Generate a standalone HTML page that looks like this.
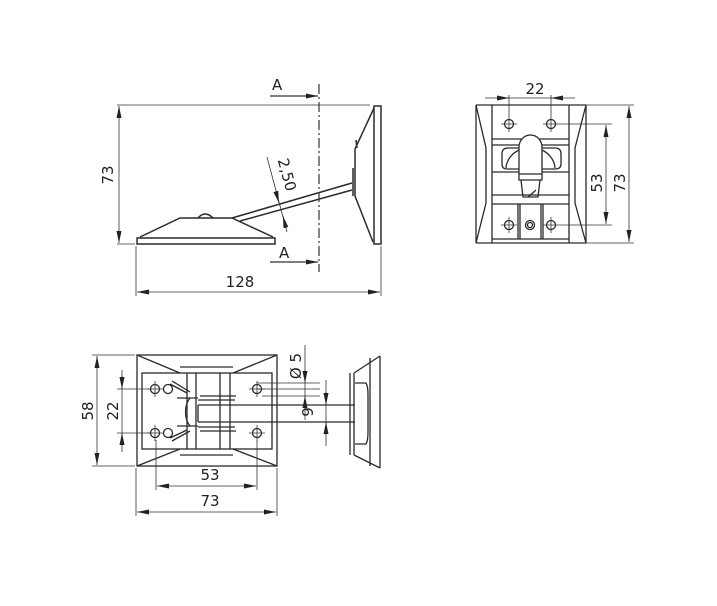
<!DOCTYPE html>
<html><head><meta charset="utf-8"><style>
html,body{margin:0;padding:0;background:#fff;}
svg{display:block;}
text{font-family:"DejaVu Sans","Liberation Sans",sans-serif;font-size:15px;fill:#222;}
</style></head><body>
<svg width="717" height="606" viewBox="0 0 717 606" xmlns="http://www.w3.org/2000/svg">
<defs>
<marker id="a" viewBox="0 0 12 5" refX="12" refY="2.5" markerWidth="12" markerHeight="5" orient="auto-start-reverse" markerUnits="userSpaceOnUse"><path d="M0,0 L12,2.5 L0,5 Z" fill="#222"/></marker>
</defs>
<g stroke="#2a2a2a" fill="none" stroke-width="1.5">
<rect x="137" y="238" width="138" height="6" fill="#fff"/>
<path d="M140,237 L180,218 L232,218 L273,237"/>
<path d="M198,218 Q205,210 213,218"/>
<path d="M232,218 L352,183 M240,221 L352,190"/>
<rect x="374" y="106" width="7" height="138" fill="#fff"/>
<path d="M374,108 L355,149 L355,196 L373,242"/>
<path d="M353,168 L353,196 M356,140 L357,148"/>
</g>
<g stroke="#333" fill="none" stroke-width="0.8">
<line x1="117" y1="105" x2="370" y2="105"/>
<line x1="117" y1="244" x2="135" y2="244"/>
<line x1="119" y1="106" x2="119" y2="243" marker-start="url(#a)" marker-end="url(#a)"/>
<line x1="136" y1="246" x2="136" y2="296"/>
<line x1="381" y1="246" x2="381" y2="296"/>
<line x1="137" y1="292" x2="380" y2="292" marker-start="url(#a)" marker-end="url(#a)"/>
<line x1="319" y1="84" x2="319" y2="272" stroke-dasharray="10,3,2,3" stroke-width="1.2"/>
<line x1="270" y1="96" x2="318" y2="96" marker-end="url(#a)" stroke-width="1.2"/>
<line x1="270" y1="262" x2="318" y2="262" marker-end="url(#a)" stroke-width="1.2"/>
<line x1="267" y1="157" x2="287" y2="232"/>
<line x1="276" y1="192" x2="279" y2="203" marker-end="url(#a)"/>
<line x1="286" y1="228" x2="283" y2="216" marker-end="url(#a)"/>
</g>
<text x="272" y="90">A</text>
<text x="279" y="258">A</text>
<text transform="translate(113,175) rotate(-90)" text-anchor="middle">73</text>
<text x="240" y="287" text-anchor="middle">128</text>
<text transform="translate(282,176) rotate(75)" text-anchor="middle">2,50</text>

<g stroke="#2a2a2a" fill="none" stroke-width="1.3">
<path d="M476,105 L476,243 M476,105 L486,148 L486,203 L476,243 M476,105 L586,105 M476,243 L586,243"/>
<path d="M586,105 L586,243 M586,105 L575,148 L575,203 L586,243"/>
<path d="M492,105 L492,243 M569,105 L569,243"/>
<path d="M492,139 L569,139 M492,145 L569,145 M492,172 L569,172 M492,195 L569,195 M492,204 L569,204 M492,239 L569,239"/>
<path d="M518,204 L518,239 M520,204 L520,239 M541,204 L541,239 M543,204 L543,239"/>
<path d="M506,148 L519,148 M542,148 L555,148 Q561,148 561,154 L561,164 Q561,169 555,169 L542,169 M519,169 L507,169 Q502,169 502,164 L502,154 Q502,148 508,148"/>
<path d="M506,168 A26,22 0 0 1 519,150 M555,168 A26,22 0 0 0 542,150"/>
<path d="M519,180 L519,147 A11.5,12 0 0 1 542,147 L542,180 Z" fill="#fff"/>
<path d="M519,174 L542,174 M521,180 L523,197 L538,197 L540,180 M528,197 L536,190"/>
<circle cx="509" cy="124" r="4.5"/><circle cx="551" cy="124" r="4.5"/>
<circle cx="509" cy="225" r="4.5"/><circle cx="551" cy="225" r="4.5"/>
<circle cx="530" cy="225" r="4.5"/><circle cx="530" cy="225" r="2.5"/>
</g>
<g stroke="#333" fill="none" stroke-width="0.8">
<path d="M501,124 L517,124 M509,116 L509,132 M543,124 L612,124 M551,116 L551,132"/>
<path d="M501,225 L517,225 M509,217 L509,233 M543,225 L612,225 M551,217 L551,233"/>
<line x1="509" y1="95" x2="509" y2="116"/><line x1="551" y1="95" x2="551" y2="116"/>
<line x1="485" y1="98" x2="509" y2="98"/><line x1="551" y1="98" x2="575" y2="98"/>
<line x1="497" y1="98" x2="509" y2="98" marker-end="url(#a)"/>
<line x1="563" y1="98" x2="551" y2="98" marker-end="url(#a)"/>
<line x1="509" y1="98" x2="551" y2="98"/>
<line x1="606" y1="125" x2="606" y2="224" marker-start="url(#a)" marker-end="url(#a)"/>
<line x1="586" y1="105" x2="634" y2="105"/><line x1="586" y1="243" x2="634" y2="243"/>
<line x1="629" y1="106" x2="629" y2="242" marker-start="url(#a)" marker-end="url(#a)"/>
</g>
<text x="535" y="94" text-anchor="middle">22</text>
<text transform="translate(602,183) rotate(-90)" text-anchor="middle">53</text>
<text transform="translate(625,183) rotate(-90)" text-anchor="middle">73</text>

<g stroke="#2a2a2a" fill="none" stroke-width="1.3">
<rect x="137" y="355" width="140" height="111"/>
<rect x="142" y="373" width="130" height="76"/>
<path d="M137,355 L180,373 M277,355 L233,373 M180,367 L233,367 M137,466 L180,449 M277,466 L233,449 M180,455 L233,455"/>
<path d="M187,373 L187,449 M196,373 L196,449 M220,373 L220,449 M230,373 L230,449"/>
<path d="M198,405 L355,405 M198,422 L355,422 M198,405 L198,422"/>
<path d="M190,398 A12,18 0 0 0 190,426 M177,398 L198,398 M177,426 L198,426"/>
<path d="M198,400 L235,400 M198,427 L235,427 M200,396 L236,396 M200,431 L236,431"/>
<path d="M170,384 L187,393 M172,381 L190,392 M170,438 L187,430 M172,441 L190,431"/>
<circle cx="155" cy="389" r="4.5"/><circle cx="168" cy="389" r="4.5"/>
<circle cx="155" cy="433" r="4.5"/><circle cx="168" cy="433" r="4.5"/>
<circle cx="257" cy="389" r="4.5"/><circle cx="257" cy="433" r="4.5"/>
<path d="M380,356 L380,468 M370,358 L370,466 M350,373 L350,455 M380,356 L354,373 M354,455 L380,468 M354,373 L354,455"/>
<path d="M355,383 L366,383 Q368,386 368,395 L368,432 Q368,441 366,444 L355,444"/>
</g>
<g stroke="#333" fill="none" stroke-width="0.8">
<path d="M147,389 L163,389 M155,381 L155,397 M147,433 L163,433 M155,425 L155,441 M249,389 L265,389 M257,381 L257,397 M249,433 L265,433 M257,425 L257,441"/>
<path d="M117,389 L150,389 M117,433 L150,433 M257,389 L320,389 M257,383 L320,383 M262,396 L320,396"/>
<line x1="92" y1="355" x2="135" y2="355"/><line x1="92" y1="466" x2="135" y2="466"/>
<line x1="97" y1="356" x2="97" y2="465" marker-start="url(#a)" marker-end="url(#a)"/>
<line x1="122" y1="370" x2="122" y2="389"/><line x1="122" y1="433" x2="122" y2="452"/>
<line x1="122" y1="376" x2="122" y2="389" marker-end="url(#a)"/>
<line x1="122" y1="446" x2="122" y2="433" marker-end="url(#a)"/>
<line x1="122" y1="389" x2="122" y2="433"/>
<line x1="156" y1="440" x2="156" y2="490"/><line x1="257" y1="440" x2="257" y2="490"/>
<line x1="157" y1="486" x2="256" y2="486" marker-start="url(#a)" marker-end="url(#a)"/>
<line x1="136" y1="468" x2="136" y2="516"/><line x1="277" y1="468" x2="277" y2="516"/>
<line x1="137" y1="512" x2="276" y2="512" marker-start="url(#a)" marker-end="url(#a)"/>
<line x1="305" y1="345" x2="305" y2="420"/>
<line x1="305" y1="370" x2="305" y2="383" marker-end="url(#a)"/>
<line x1="305" y1="409" x2="305" y2="396" marker-end="url(#a)"/>
<line x1="326" y1="380" x2="326" y2="446"/>
<line x1="326" y1="392" x2="326" y2="405" marker-end="url(#a)"/>
<line x1="326" y1="435" x2="326" y2="422" marker-end="url(#a)"/>
</g>
<text transform="translate(93,411) rotate(-90)" text-anchor="middle">58</text>
<text transform="translate(118,411) rotate(-90)" text-anchor="middle">22</text>
<text x="210" y="480" text-anchor="middle">53</text>
<text x="210" y="506" text-anchor="middle">73</text>
<text transform="translate(301,366) rotate(-90)" text-anchor="middle">Ø 5</text>
<text transform="translate(313,412) rotate(-90)" text-anchor="middle">9</text>
</svg>
</body></html>
